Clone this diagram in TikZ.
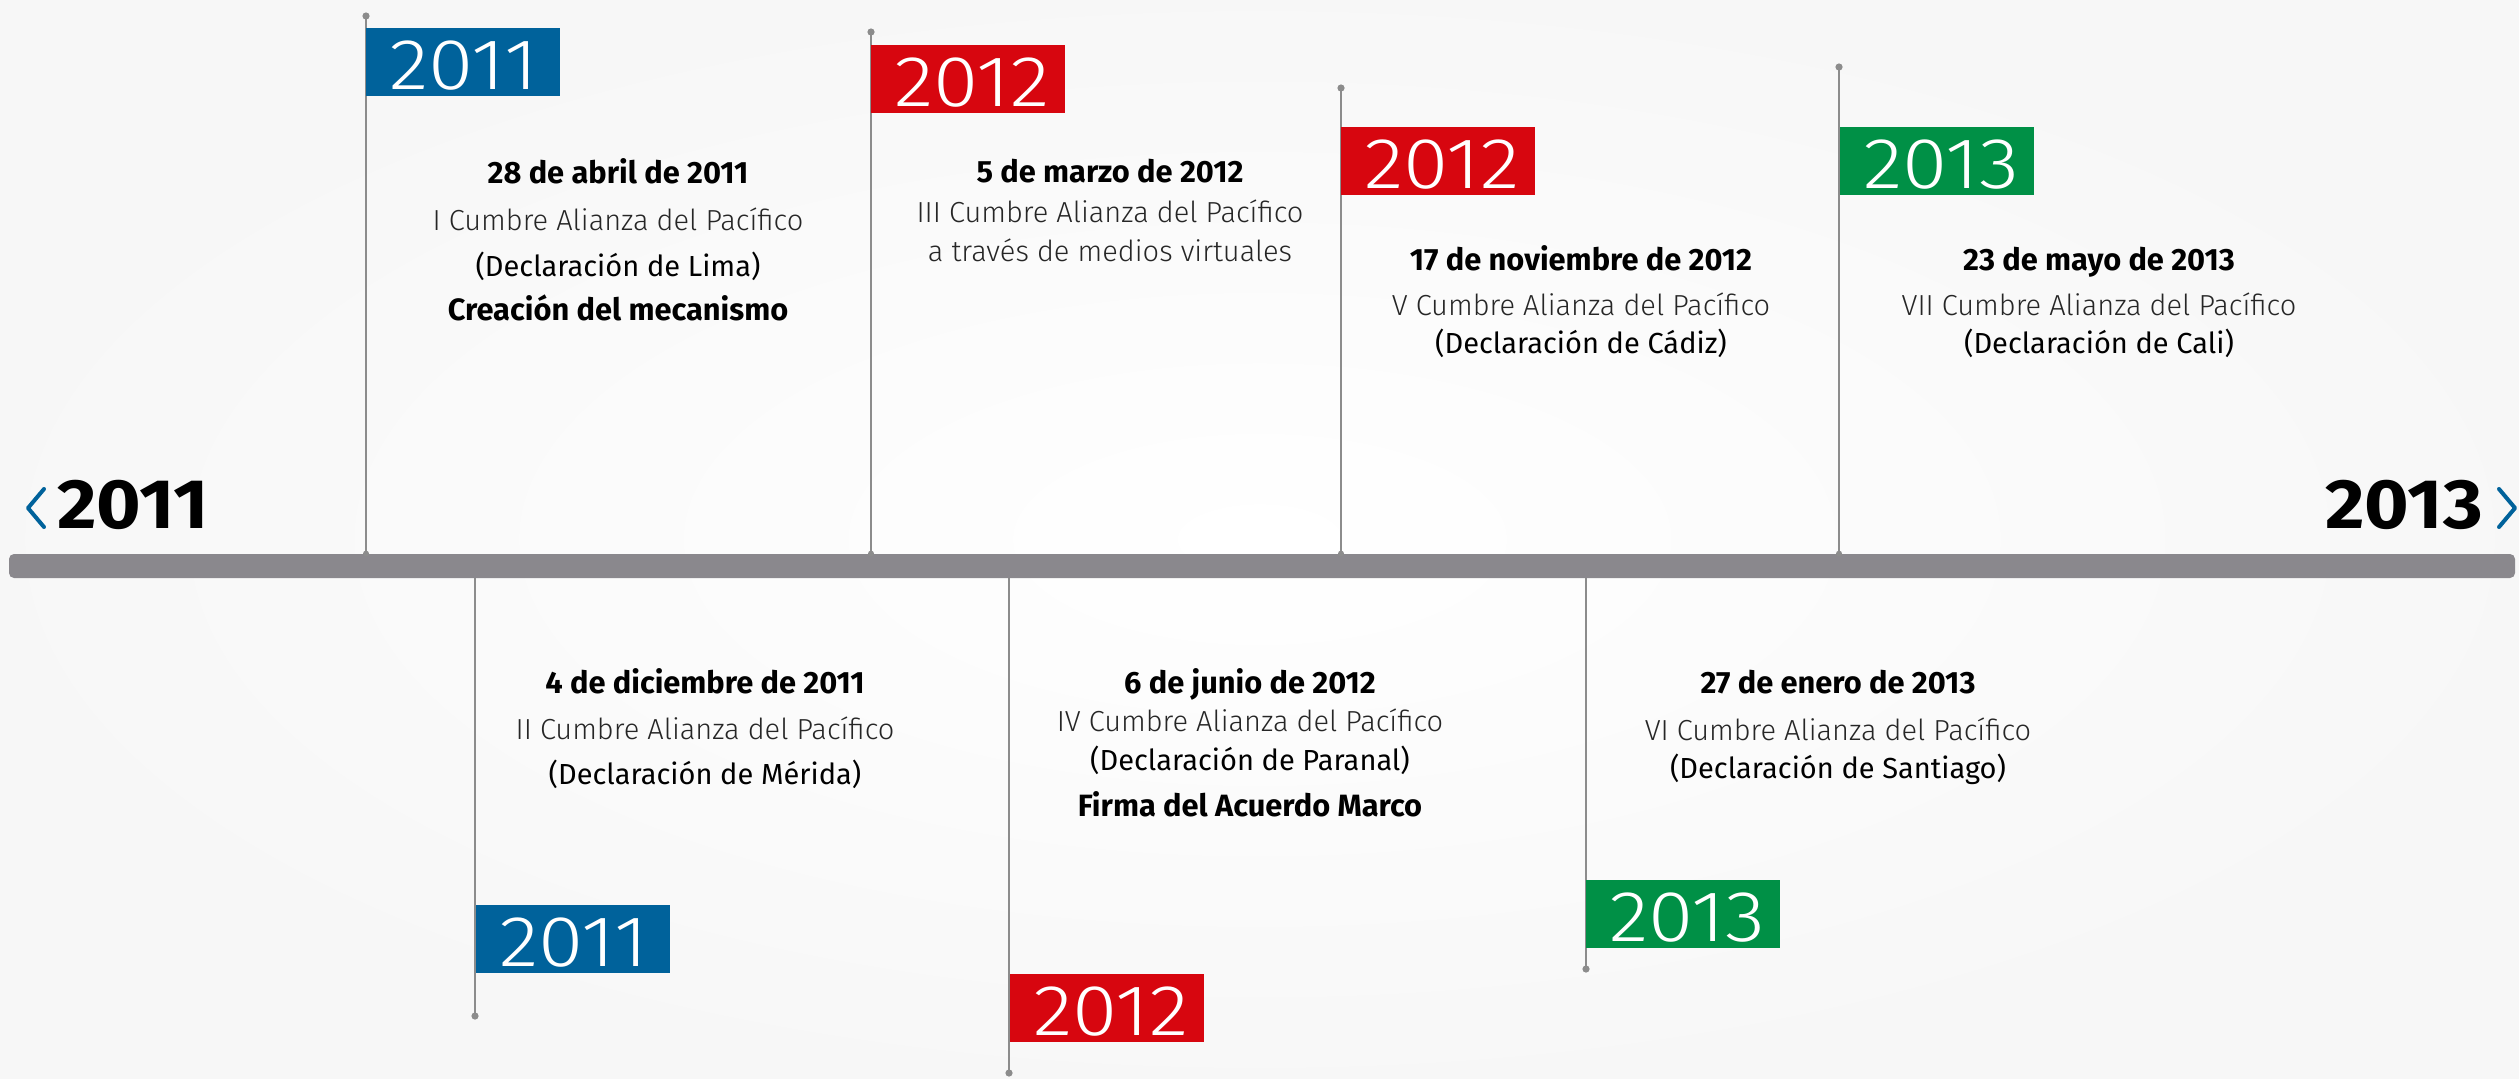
\documentclass[tikz,border=0pt]{standalone}
\usepackage{fontspec}
\usepackage{graphicx}
\setmainfont{Fira Sans}
\newfontfamily\lightfont{Fira Sans Light}
\definecolor{ablue}{HTML}{00629B}
\definecolor{ared}{HTML}{D7060F}
\definecolor{agreen}{HTML}{009046}
\definecolor{abar}{HTML}{8A888D}
\definecolor{aline}{HTML}{8C8C8C}
\newcommand{\wide}[2]{\scalebox{#1}[1]{#2}}
\begin{document}
\begin{tikzpicture}[x=0.5pt,y=-0.5pt,
  flag/.style={anchor=north west, minimum width=97pt, minimum height=34pt, inner sep=0pt},
  flagtext/.style={anchor=base west, inner sep=0pt, text=white, font=\lightfont\fontsize{36}{40}\selectfont},
  dotn/.style={circle, fill=aline, inner sep=0pt, minimum size=3.6pt},
  bdot/.style={circle, fill=aline, inner sep=0pt, minimum size=3pt},
  vline/.style={draw=aline, line width=0.9pt},
  tdate/.style={anchor=base, inner sep=0pt, font=\bfseries\fontsize{15.4}{18}\selectfont},
  tlight/.style={anchor=base, inner sep=0pt, text=black!85, font=\lightfont\fontsize{14.5}{17}\selectfont},
  treg/.style={anchor=base, inner sep=0pt, font=\fontsize{14.5}{17}\selectfont},
  axislbl/.style={inner sep=0pt, font=\bfseries\fontsize{35}{40}\selectfont},
  chev/.style={draw=ablue, line width=2pt, line cap=round, line join=round}]
\useasboundingbox (0,0) rectangle (2519,1078);
\shade[inner color=white, outer color=black!3] (0,0) rectangle (2519,1078);

% bar
\node[fill=abar, rounded corners=2.5pt, minimum width=1253pt, minimum height=12pt, inner sep=0pt] (bar) at (1262,566) {};

% axis labels
\node[axislbl, anchor=base west] (y0) at (57,528) {\wide{1.09}{2011}};
\node[axislbl, anchor=base east] (y1) at (2483,528) {\wide{1.09}{2013}};
\draw[chev] (44,489) -- (28,508) -- (44,527);
\draw[chev] (2499,489) -- (2515,508) -- (2499,527);

% top events
\node[dotn] (d1) at (366,16) {};
\node[dotn] (d2) at (871,32) {};
\node[dotn] (d3) at (1341,88) {};
\node[dotn] (d4) at (1839,67) {};
\foreach \d in {d1,d2,d3,d4}{
  \node[bdot] (\d b) at (\d |- bar.north) {};
  \draw[vline] (\d.center) -- (\d b.center);
}
% bottom events
\node[dotn] (d5) at (475,1016) {};
\node[dotn] (d6) at (1009,1073) {};
\node[dotn] (d7) at (1586,969) {};
\foreach \d in {d5,d6,d7}{
  \draw[vline] (\d |- bar.south) -- (\d.center);
}

% flags
\node[flag, fill=ablue] (f1) at (366,28) {};
\node[flag, fill=ared] (f2) at (871,45) {};
\node[flag, fill=ared] (f3) at (1341,127) {};
\node[flag, fill=agreen] (f4) at (1840,127) {};
\node[flag, fill=ablue] (f5) at (476,905) {};
\node[flag, fill=ared] (f6) at (1010,974) {};
\node[flag, fill=agreen] (f7) at (1586,880) {};
\node[flagtext] (ft1) at ([xshift=11.5pt,yshift=3.5pt]f1.south west) {\wide{1.14}{2011}};
\node[flagtext] (ft2) at ([xshift=11.5pt,yshift=3.5pt]f2.south west) {\wide{1.14}{2012}};
\node[flagtext] (ft3) at ([xshift=11.5pt,yshift=3.5pt]f3.south west) {\wide{1.14}{2012}};
\node[flagtext] (ft4) at ([xshift=11.5pt,yshift=3.5pt]f4.south west) {\wide{1.14}{2013}};
\node[flagtext] (ft5) at ([xshift=11.5pt,yshift=3.5pt]f5.south west) {\wide{1.14}{2011}};
\node[flagtext] (ft6) at ([xshift=11.5pt,yshift=3.5pt]f6.south west) {\wide{1.14}{2012}};
\node[flagtext] (ft7) at ([xshift=11.5pt,yshift=3.5pt]f7.south west) {\wide{1.14}{2013}};

% texts
\node[tdate] (a1) at (618,183) {28 de abril de 2011};
\node[tlight] (a2) at (618,230) {I Cumbre Alianza del Pacífico};
\node[treg] (a3) at (618,276) {(Declaración de Lima)};
\node[tdate] (a4) at (618,320) {Creación del mecanismo};

\node[tdate] (b1) at (1110,182) {5 de marzo de 2012};
\node[tlight] (b2) at (1110,222) {III Cumbre Alianza del Pacífico};
\node[tlight] (b3) at (1110,261) {a través de medios virtuales};

\node[tdate] (c1) at (1581,270) {17 de noviembre de 2012};
\node[tlight] (c2) at (1581,315) {V Cumbre Alianza del Pacífico};
\node[treg] (c3) at (1581,353) {(Declaración de Cádiz)};

\node[tdate] (e1) at (2099,270) {23 de mayo de 2013};
\node[tlight] (e2) at (2099,315) {VII Cumbre Alianza del Pacífico};
\node[treg] (e3) at (2099,353) {(Declaración de Cali)};

\node[tdate] (g1) at (705,693) {4 de diciembre de 2011};
\node[tlight] (g2) at (705,739) {II Cumbre Alianza del Pacífico};
\node[treg] (g3) at (705,784) {(Declaración de Mérida)};

\node[tdate] (h1) at (1250,693) {6 de junio de 2012};
\node[tlight] (h2) at (1250,731) {IV Cumbre Alianza del Pacífico};
\node[treg] (h3) at (1250,770) {(Declaración de Paranal)};
\node[tdate] (h4) at (1250,816) {Firma del Acuerdo Marco};

\node[tdate] (k1) at (1838,693) {27 de enero de 2013};
\node[tlight] (k2) at (1838,740) {VI Cumbre Alianza del Pacífico};
\node[treg] (k3) at (1838,778) {(Declaración de Santiago)};
\end{tikzpicture}
\end{document}
